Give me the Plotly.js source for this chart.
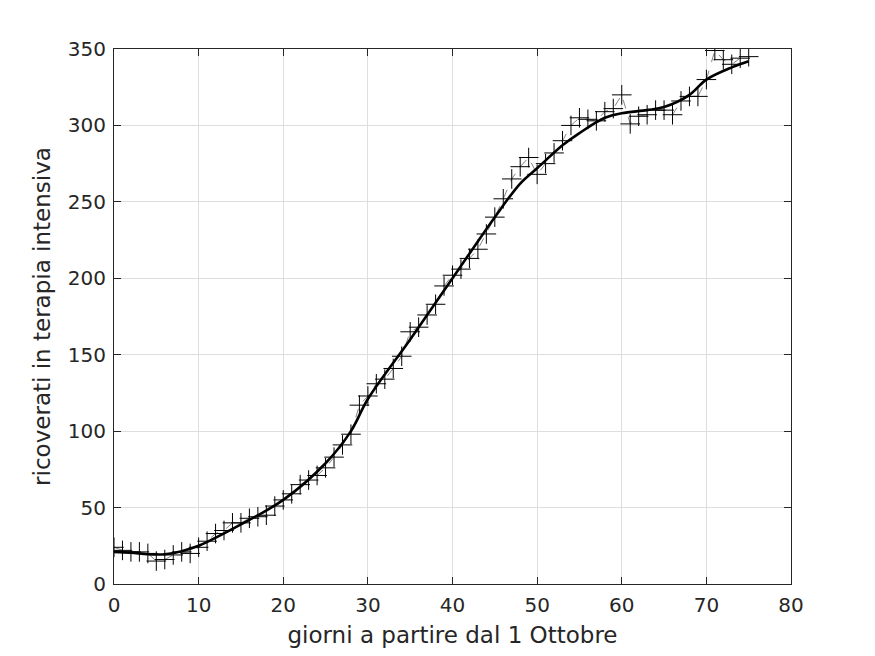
<!DOCTYPE html>
<html>
<head>
<meta charset="utf-8">
<script src="https://cdn.plot.ly/plotly-3.0.1.min.js"></script>
<style>html,body{margin:0;padding:0;background:#fff;}#chart{width:875px;height:656px;}</style>
</head>
<body>
<div id="chart"></div>
<script>
const days = [];
for (let i = 0; i <= 75; i++) days.push(i);
const ricoverati = [24,22,21,21,20,15,16,19,21,20,
  24,28,33,35,40,40,43,44,45,51,
  55,59,65,68,71,76,83,91,98,117,
  123,131,134,141,149,165,168,176,183,195,
  202,206,213,219,229,240,252,265,273,279,
  268,275,282,290,300,305,304,303,309,311,
  320,301,306,307,310,310,307,316,319,319,
  330,349,343,340,344,345];
const fitDays = [0,2,4,6,8,10,15,20,25,28,30,35,40,45,48,50,53,55,58,60,63,65,68,70,73,75];
const fitValues = [21,20.5,19.5,19.5,21.5,25,39,55,79,100,121,160,200,240,262,272,287,295,305,308,310,312,320,330,338,342];

const axisCommon = {
  showline: true, mirror: 'ticks', linecolor: '#262626', linewidth: 1,
  ticks: 'inside', ticklen: 7, tickcolor: '#262626',
  showgrid: true, gridcolor: '#dedede', gridwidth: 1, zeroline: false,
  ticklabelstandoff: 3,
  tickfont: {family: 'DejaVu Sans, sans-serif', size: 20, color: '#262626'}
};

const traces = [
  {x: days, y: ricoverati, mode: 'lines+markers', type: 'scatter',
   line: {color: '#333', width: 0.6, dash: 'dash'},
   marker: {symbol: 'cross-thin', size: 14, line: {color: '#000', width: 1}, color: '#000'},
   hoverinfo: 'skip', showlegend: false},
  {x: fitDays, y: fitValues, mode: 'lines', type: 'scatter',
   line: {color: '#000', width: 2.6, shape: 'spline', smoothing: 1},
   hoverinfo: 'skip', showlegend: false}
];

const layout = {
  width: 875, height: 656,
  margin: {l: 114, r: 84, t: 49, b: 72},
  paper_bgcolor: '#fff', plot_bgcolor: '#fff',
  xaxis: Object.assign({}, axisCommon, {range: [0, 80], dtick: 10, tick0: 0,
    title: {text: 'giorni a partire dal 1 Ottobre', standoff: 10,
      font: {family: 'DejaVu Sans, sans-serif', size: 23, color: '#262626'}}}),
  yaxis: Object.assign({}, axisCommon, {range: [0, 350], dtick: 50, tick0: 0,
    title: {text: 'ricoverati in terapia intensiva', standoff: 10,
      font: {family: 'DejaVu Sans, sans-serif', size: 23, color: '#262626'}}}),
  showlegend: false
};

Plotly.newPlot('chart', traces, layout, {staticPlot: true, displayModeBar: false});
</script>
</body>
</html>
